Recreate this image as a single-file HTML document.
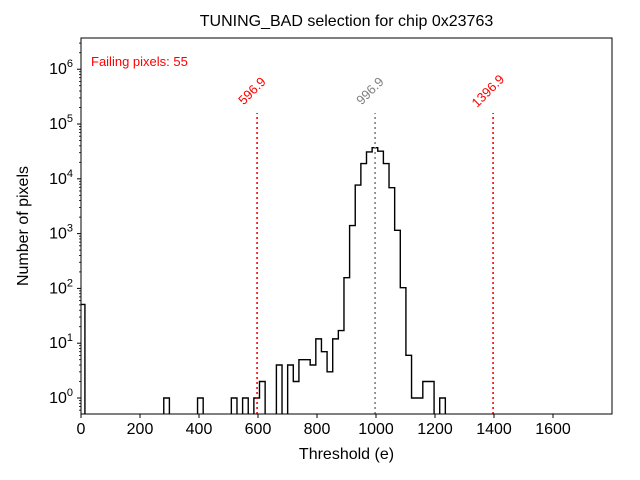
<!DOCTYPE html>
<html><head><meta charset="utf-8"><style>body{margin:0;background:#fff}svg{display:block;font-family:"Liberation Sans","DejaVu Sans",sans-serif}</style></head>
<body>
<svg id="chart" width="640" height="480" xmlns="http://www.w3.org/2000/svg"></svg>
<script>
const binStart = -5.8;
const binWidth = 19.09;
const counts = [51,0,0,0,0,0,0,0,0,0,0,0,0,0,0,1,0,0,0,0,0,1,0,0,0,0,0,1,0,1,0,1,2,0,0,4,0,4,2,5,5,4,12,7,3,12,17,157,1400,7700,19000,31000,37000,32000,19000,6900,1150,103,6,1,1,2,2,0,1];
const xTicks = [0,200,400,600,800,1000,1200,1400,1600];
const yExps = [0,1,2,3,4,5,6];
const cutLines = [596.9, 996.9, 1396.9];
const cutColors = ['red','gray','red'];

const NS='http://www.w3.org/2000/svg';
const svg=document.getElementById('chart');
const L=81,R=612,T=38,B=414;
const xMin=0,xMax=1800,yLogMin=-0.292,yLogMax=6.57;
const X=v=>L+(v-xMin)/(xMax-xMin)*(R-L);
const Y=v=>B-(Math.log10(v)-yLogMin)/(yLogMax-yLogMin)*(B-T);
function el(t,a,p){const e=document.createElementNS(NS,t);for(const k in a)e.setAttribute(k,a[k]);(p||svg).appendChild(e);return e;}
const defs=el('defs',{});const cp=el('clipPath',{id:'c'},defs);el('rect',{x:L,y:T,width:R-L,height:B-T},cp);

let d='';
for(let i=0;i<counts.length;i++){
  const x0=X(binStart+i*binWidth),x1=X(binStart+(i+1)*binWidth);
  const y=counts[i]>0?Y(counts[i]):B+5;
  if(i===0)d+='M'+x0+','+(B+5);
  d+=' L'+x0+','+y+' L'+x1+','+y;
}
d+=' L'+X(binStart+counts.length*binWidth)+','+(B+5);
const hist=el('path',{d:d,fill:'none',stroke:'#000','stroke-width':1.4,'clip-path':'url(#c)'});



cutLines.forEach((v,i)=>{
  const ln=el('line',{x1:X(v),x2:X(v),y1:B,y2:113,stroke:cutColors[i],'stroke-width':1.6,'stroke-dasharray':'2,3'});
  
  
  const tx=X(v)-2,ty=94;
  const t=el('text',{x:tx,y:ty,fill:cutColors[i],'font-size':13,'text-anchor':'middle',transform:'rotate(-45 '+tx+' '+ty+')'});
  t.textContent=v.toFixed(1);
  
  
});

const fr=el('rect',{x:L,y:T,width:R-L,height:B-T,fill:'none',stroke:'#000','stroke-width':1});



xTicks.forEach(v=>{
  el('line',{x1:X(v),x2:X(v),y1:B,y2:B+4,stroke:'#000'});
  const t=el('text',{x:X(v),y:B+20,'font-size':16,'text-anchor':'middle'});t.textContent=v;
  
  
});
yExps.forEach(e=>{
  const y=Y(Math.pow(10,e));
  el('line',{x1:L-4,x2:L,y1:y,y2:y,stroke:'#000'});
  const t=el('text',{x:L-8,y:y+5,'font-size':16,'text-anchor':'end'});
  t.innerHTML='10<tspan dy="-7" font-size="11">'+e+'</tspan>';
  
  
});
for(let e=-1;e<=6;e++)for(let m=2;m<10;m++){const y=Y(m*Math.pow(10,e));if(y<T||y>B)continue;el('line',{x1:L-2,x2:L,y1:y,y2:y,stroke:'#000','stroke-width':0.8});}
</script>
<div style="position:absolute;left:0;top:0;width:640px;height:480px;pointer-events:none;font-family:'Liberation Sans','DejaVu Sans',sans-serif">
<div style="position:absolute;left:81px;width:531px;top:13px;text-align:center;font-size:16px">TUNING_BAD selection for chip 0x23763</div>
<div style="position:absolute;left:81px;width:531px;top:446px;text-align:center;font-size:16px">Threshold (e)</div>
<div style="position:absolute;left:-56px;top:217px;width:160px;text-align:center;font-size:16px;transform:rotate(-90deg)">Number of pixels</div>
<div style="position:absolute;left:91px;top:54px;font-size:13px;color:red">Failing pixels: 55</div>
</div>
</body></html>
